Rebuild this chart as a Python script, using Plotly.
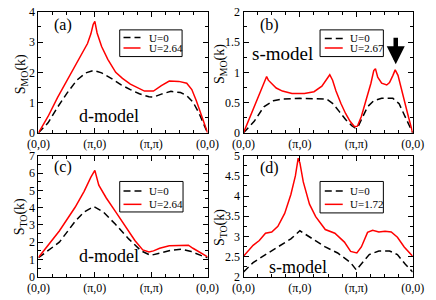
import plotly.graph_objects as go

# ---------------- data (k-path coordinate: 0=(0,0), 1=(pi,0), 2=(pi,pi), 3=(0,0)) -------------
tick_labels = ["(0,0)", "(\u03c0,0)", "(\u03c0,\u03c0)", "(0,0)"]

# (a) S_MO, d-model
a_k_u0 = [0, 0.17, 0.34, 0.51, 0.68, 0.84, 0.98, 1.12, 1.29, 1.46, 1.63, 1.79, 1.96, 2.04, 2.18, 2.35, 2.52, 2.63, 2.74, 2.85, 2.97, 3.0]
a_u0 = [0, 0.33, 0.85, 1.32, 1.74, 1.98, 2.06, 1.98, 1.80, 1.59, 1.43, 1.29, 1.19, 1.18, 1.28, 1.37, 1.33, 1.23, 1.02, 0.64, 0.12, 0]
a_k_u = [0, 0.17, 0.34, 0.51, 0.68, 0.79, 0.87, 0.93, 0.97, 1.0, 1.04, 1.12, 1.23, 1.37, 1.49, 1.63, 1.79, 1.88, 2.04, 2.18, 2.32, 2.49, 2.63, 2.72, 2.80, 2.88, 2.97, 3.0]
a_u = [0, 0.54, 1.17, 1.74, 2.27, 2.64, 2.95, 3.27, 3.58, 3.68, 3.30, 2.85, 2.43, 2.00, 1.80, 1.61, 1.45, 1.38, 1.38, 1.56, 1.71, 1.70, 1.64, 1.43, 1.06, 0.64, 0.17, 0]

# (b) S_MO, s-model
b_k_u0 = [0, 0.19, 0.36, 0.53, 0.69, 1.0, 1.47, 1.59, 1.70, 1.81, 1.92, 1.98, 2.03, 2.12, 2.20, 2.31, 2.45, 2.65, 2.76, 2.84, 2.93, 3.0]
b_u0 = [0, 0.19, 0.43, 0.53, 0.56, 0.57, 0.56, 0.48, 0.35, 0.22, 0.12, 0.08, 0.10, 0.27, 0.43, 0.53, 0.57, 0.57, 0.48, 0.32, 0.14, 0]
b_k_u = [0, 0.19, 0.33, 0.39, 0.41, 0.44, 0.50, 0.58, 0.69, 0.86, 1.08, 1.25, 1.39, 1.47, 1.53, 1.58, 1.64, 1.73, 1.81, 1.89, 1.97, 2.02, 2.09, 2.17, 2.26, 2.31, 2.34, 2.38, 2.45, 2.54, 2.59, 2.65, 2.69, 2.74, 2.82, 2.91, 3.0]
b_u = [0, 0.43, 0.77, 0.89, 0.93, 0.87, 0.82, 0.74, 0.69, 0.65, 0.65, 0.68, 0.77, 0.87, 0.96, 0.87, 0.69, 0.48, 0.32, 0.19, 0.10, 0.11, 0.27, 0.53, 0.82, 1.03, 1.06, 0.92, 0.82, 0.79, 0.83, 0.95, 1.04, 0.95, 0.64, 0.32, 0]

# (c) S_TO, d-model
c_k_u0 = [0, 0.37, 0.65, 0.81, 0.98, 1.15, 1.37, 1.60, 1.82, 1.99, 2.15, 2.38, 2.54, 2.71, 2.88, 3.0]
c_u0 = [1.10, 2.00, 3.20, 3.75, 4.06, 3.75, 3.02, 2.19, 1.50, 1.24, 1.37, 1.55, 1.59, 1.46, 1.24, 1.10]
c_k_u = [0, 0.37, 0.65, 0.81, 0.93, 1.0, 1.07, 1.20, 1.37, 1.54, 1.71, 1.85, 1.96, 2.04, 2.15, 2.32, 2.49, 2.66, 2.74, 2.88, 3.0]
c_u = [1.12, 2.65, 4.02, 4.94, 5.76, 6.15, 5.30, 4.57, 3.75, 2.93, 2.10, 1.55, 1.43, 1.50, 1.65, 1.79, 1.83, 1.83, 1.65, 1.37, 1.15]

# (d) S_TO, s-model
d_k_u0 = [0, 0.17, 0.39, 0.61, 0.84, 1.0, 1.23, 1.45, 1.67, 1.90, 2.0, 2.09, 2.23, 2.40, 2.59, 2.73, 2.87, 3.0]
d_u0 = [2.12, 2.35, 2.55, 2.74, 2.94, 3.14, 2.94, 2.74, 2.59, 2.35, 2.17, 2.31, 2.55, 2.64, 2.64, 2.55, 2.31, 2.12]
d_k_u = [0, 0.17, 0.28, 0.39, 0.50, 0.61, 0.73, 0.84, 0.92, 0.97, 1.0, 1.06, 1.17, 1.28, 1.45, 1.62, 1.79, 1.90, 2.01, 2.09, 2.20, 2.29, 2.40, 2.51, 2.62, 2.73, 2.85, 3.0]
d_u = [2.51, 2.78, 2.90, 3.08, 3.11, 3.25, 3.57, 4.04, 4.50, 4.94, 4.82, 4.35, 3.80, 3.49, 3.17, 3.08, 2.86, 2.63, 2.59, 2.74, 3.10, 3.15, 3.11, 3.13, 3.11, 2.98, 2.74, 2.51]

u_labels = ["2.64", "2.67", "2.64", "1.72"]

# ---------------- figure ----------------
W, H = 436, 300
FONT = "Liberation Serif"
RED = "#ff0000"
DASH = "7px,4px"


def px(x, y):
    return x / W, 1 - y / H


panels = [
    # name, x-domain px, y-domain px (top,bottom), yrange, ydtick, yminor
    ("", (28, 207), (5, 132), [0, 4], 1, 0.5),
    ("2", (245, 424), (5, 132), [0, 2], 0.5, 0.25),
    ("3", (28, 207), (156, 283), [0, 7], 1, 0.5),
    ("4", (245, 424), (156, 283), [2, 5], 0.5, 0.25),
]

series = [
    (a_k_u0, a_u0, a_k_u, a_u),
    (b_k_u0, b_u0, b_k_u, b_u),
    (c_k_u0, c_u0, c_k_u, c_u),
    (d_k_u0, d_u0, d_k_u, d_u),
]

fig = go.Figure()
layout = dict(
    width=W, height=H, margin=dict(l=0, r=0, t=0, b=0),
    paper_bgcolor="white", plot_bgcolor="white", showlegend=False,
    font=dict(family=FONT, size=12, color="black"),
)

for (nm, xd, yd, yr, ydt, ymn), (k0, v0, k1, v1), ul in zip(panels, series, u_labels):
    xa = "x" + nm
    ya = "y" + nm
    fig.add_trace(go.Scatter(x=k0, y=v0, mode="lines", name="U=0", xaxis=xa, yaxis=ya,
                             line=dict(color="black", width=1.5, dash=DASH)))
    fig.add_trace(go.Scatter(x=k1, y=v1, mode="lines", name="U=" + ul, xaxis=xa, yaxis=ya,
                             line=dict(color=RED, width=1.5)))
    common = dict(showline=True, linecolor="black", linewidth=1, mirror="ticks",
                  ticks="inside", ticklen=5, tickcolor="black", tickwidth=1,
                  showgrid=False, zeroline=False,
                  tickfont=dict(family=FONT, size=12, color="black"))
    layout["xaxis" + nm] = dict(
        domain=[xd[0] / W, xd[1] / W], range=[0, 3], anchor=ya,
        tickmode="array", tickvals=[0, 1, 2, 3], ticktext=tick_labels,
        minor=dict(ticks="inside", ticklen=3, tickcolor="black", tickvals=[i / 4 for i in range(13) if i % 4]),
        **common)
    layout["yaxis" + nm] = dict(
        domain=[1 - yd[1] / H, 1 - yd[0] / H], range=yr, anchor=xa,
        dtick=ydt, tick0=0,
        minor=dict(ticks="inside", ticklen=3, tickcolor="black", dtick=ymn, tick0=0),
        **common)

ann = []
shapes = []


def text(x, y, s, size, **kw):
    xx, yy = px(x, y)
    d = dict(x=xx, y=yy, xref="paper", yref="paper", text=s, showarrow=False,
             xanchor="center", yanchor="middle",
             font=dict(family=FONT, size=size, color="black"))
    d.update(kw)
    ann.append(d)


# panel letters and model names
text(54, 19, "(a)", 16)
text(272, 19, "(b)", 16)
text(54, 168, "(c)", 16)
text(272, 169, "(d)", 16)
text(103, 114, "d-model", 18)
text(286, 49, "s-model", 19)
text(103, 261, "d-model", 18)
text(303, 273, "s-model", 18)

# y titles
text(10, 70, "S<sub>MO</sub>(k)", 14, textangle=-90)
text(220, 60, "S<sub>MO</sub>(k)", 14, textangle=-90)
text(9, 220, "S<sub>TO</sub>(k)", 14, textangle=-90)
text(220, 231, "S<sub>TO</sub>(k)", 14, textangle=-90)

# legends (box left, top, right, bottom, row1, row2, line x0, x1, text x)
legs = [
    (114, 24, 180, 52, 32, 43, 118, 136, 143, u_labels[0]),
    (326, 24, 393, 52, 33, 43, 331, 350, 356, u_labels[1]),
    (114, 183, 181, 215, 193, 207, 118, 137, 143, u_labels[2]),
    (326, 183, 393, 216, 193, 207, 331, 350, 356, u_labels[3]),
]
for l, t, r, b, r1, r2, lx0, lx1, tx, ul in legs:
    x0, y0 = px(l, b)
    x1, y1 = px(r, t)
    shapes.append(dict(type="rect", xref="paper", yref="paper", x0=x0, y0=y0, x1=x1, y1=y1,
                       line=dict(color="black", width=1), fillcolor="white", layer="above"))
    for ry, col, dash in [(r1, "black", DASH), (r2, RED, "solid")]:
        a0, b0 = px(lx0, ry)
        a1, _ = px(lx1, ry)
        shapes.append(dict(type="line", xref="paper", yref="paper", x0=a0, y0=b0, x1=a1, y1=b0,
                           line=dict(color=col, width=1.5, dash=dash), layer="above"))
    text(tx, r1, "U=0", 11, xanchor="left")
    text(tx, r2, "U=" + ul, 11, xanchor="left")

# arrow in panel (b)
ann.append(dict(x=2.70, y=1.134, xref="x2", yref="y2", ax=0, ay=-28, showarrow=True,
                arrowhead=2, arrowsize=0.8, arrowwidth=4.5, arrowcolor="black", text=""))

layout["annotations"] = ann
layout["shapes"] = shapes
fig.update_layout(**layout)
fig.write_html("out.html", config={"displayModeBar": False},
               post_script="document.body.style.margin='0';document.body.style.padding='0';")
